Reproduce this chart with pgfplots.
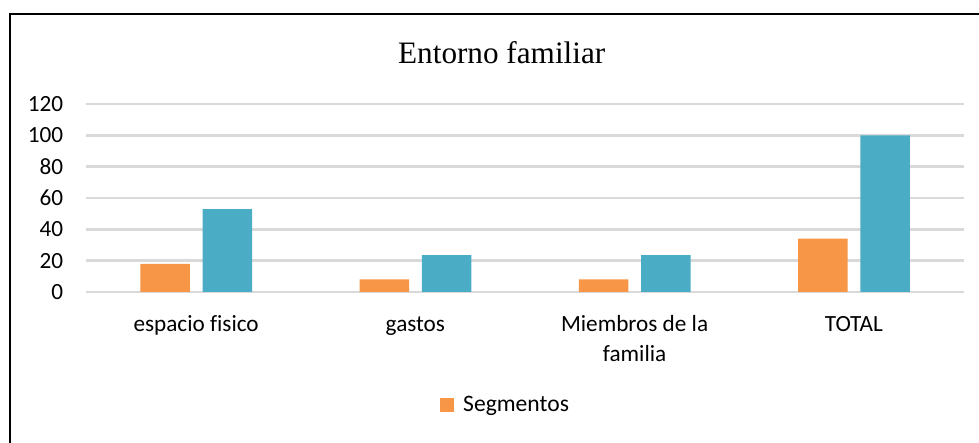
\documentclass[border=0pt]{standalone}
\usepackage{fontspec}
\setmainfont{Carlito}[Ligatures=NoCommon]
\newfontfamily\titlefont{Liberation Serif}
\usepackage{pgfplots}
\pgfplotsset{compat=1.18}
\definecolor{barorange}{HTML}{F79646}
\definecolor{barteal}{HTML}{4BACC6}
\definecolor{gridgray}{HTML}{D9D9D9}
\begin{document}
\begin{tikzpicture}
\useasboundingbox (0,0) rectangle (489.5bp,221.5bp);
\draw[black, line width=1.2bp] (4.9bp,0) -- (4.9bp,214.6bp) -- (489.5bp,214.6bp);
\node[anchor=base, inner sep=0pt, font=\titlefont\fontsize{15.6bp}{18bp}\selectfont] at (250.85bp,189.9bp) {Entorno familiar};
\begin{axis}[
  at={(43.25bp,75.5bp)}, anchor=south west,
  scale only axis, width=438.5bp, height=94bp,
  xmin=-0.5, xmax=3.5, ymin=0, ymax=120,
  enlargelimits=false,
  axis line style={draw=none},
  major tick length=0pt,
  xtick={0,1,2,3},
  xticklabels={\strut espacio fisico, \strut gastos, {\strut Miembros de la\\familia}, \strut TOTAL},
  ytick={0,20,...,120},
  ymajorgrids,
  grid style={gridgray, line width=1.2bp},
  /pgf/number format/assume math mode=true,
  xticklabel style={anchor=north, inner sep=0pt, yshift=-9bp, align=center, font=\fontsize{11.6bp}{15bp}\selectfont},
  yticklabel style={anchor=east, inner sep=0pt, xshift=-11.5bp, font=\fontsize{11.6bp}{14bp}\selectfont},
  legend style={at={(0.479,-0.601)}, anchor=center, draw=none, fill=none, font=\fontsize{11.8bp}{14bp}\selectfont, inner sep=0pt, /tikz/every odd column/.append style={column sep=2.5bp}},
  legend image code/.code={\fill[#1] (0bp,-3.5bp) rectangle (7bp,3.5bp);},
  legend cell align=left,
]
\addplot[ybar, bar width=24.75bp, bar shift=-15.5bp, fill=barorange, draw=none] coordinates {(0,18) (1,8) (2,8) (3,34)};
\addlegendentry{Segmentos}
\addplot[ybar, bar width=24.75bp, bar shift=15.6bp, fill=barteal, draw=none, forget plot] coordinates {(0,52.94) (1,23.53) (2,23.53) (3,100)};
\end{axis}
\end{tikzpicture}
\end{document}
